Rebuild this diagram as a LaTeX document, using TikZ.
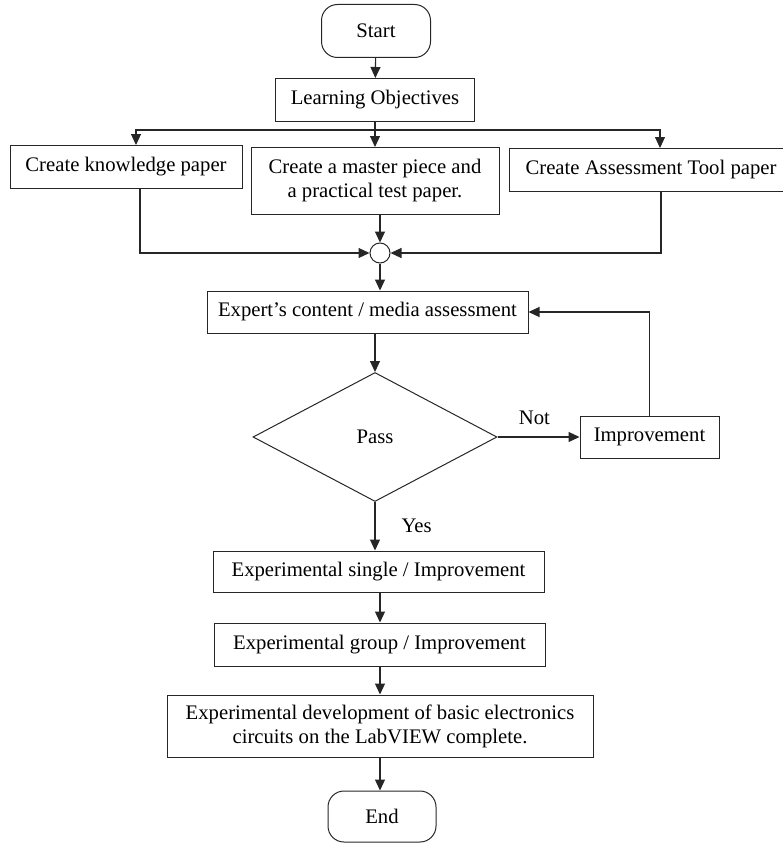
\documentclass[tikz,border=0pt]{standalone}
\usepackage{fontspec}
\setmainfont{Liberation Serif}
\newfontfamily\timesfont{Liberation Serif}
\usetikzlibrary{arrows.meta,shapes.geometric}

\begin{document}
\begin{tikzpicture}[x=1pt,y=-1pt,
    every node/.style={font=\timesfont\fontsize{20.7}{24}\selectfont, inner sep=0pt},
    box/.style={draw=black!85, line width=1pt, align=center},
    term/.style={box, rounded corners=16pt},
    junction/.style={circle, draw=black!85, line width=1pt, minimum size=20pt},
    decision/.style={diamond, draw=black!85, line width=1pt},
    conn/.style={draw=black!85, line width=1.1pt, -{Triangle[length=11pt,width=10pt]}}]
    \useasboundingbox (0,0) rectangle (782,843);
    \node[term, minimum width=109pt, minimum height=53pt] (start) at (376,31) {Start};
    \node[box, minimum width=199pt, minimum height=43pt] (lo) at (375,100) {Learning Objectives};
    \node[box, minimum width=232pt, minimum height=43pt] (know) at (126,167) {Create knowledge paper};
    \node[box, minimum width=248pt, minimum height=67pt] (master) at (375,181) {Create a master piece and\\a practical test paper.};
    \node[box, minimum width=284pt, minimum height=43pt] (assess) at (651,170) {Create Assessment Tool paper};
    \node[junction] (j) at (380,253) {};
    \node[box, minimum width=321pt, minimum height=42pt] (expert) at (367.5,312) {Expert’s content / media assessment};
    \node[decision, minimum width=244pt, minimum height=129pt] (pass) at (375,437) {Pass};
    \node[box, minimum width=139pt, minimum height=42pt] (improve) at (649.5,437) {Improvement};
    \node[box, minimum width=331pt, minimum height=41pt] (single) at (378.5,571.5) {Experimental single / Improvement};
    \node[box, minimum width=331pt, minimum height=43pt] (group) at (379.5,644.5) {Experimental group / Improvement};
    \node[box, minimum width=426pt, minimum height=62pt] (dev) at (380,726) {Experimental development of basic electronics\\circuits on the LabVIEW complete.};
    \node[term, minimum width=108pt, minimum height=51pt] (end) at (382,816.5) {End};
    \coordinate (split) at (375,130);

    \draw[conn] (start) -- (lo);
    \draw[draw=black!85, line width=1.1pt] (lo.south) -- (split);
    \draw[conn] (split) -| ([xshift=10pt]know.north);
    \draw[conn] (split) -- (master.north);
    \draw[conn] (split) -| ([xshift=9pt]assess.north);
    \draw[conn] ([xshift=14pt]know.south) |- (j.west);
    \draw[conn] (master.south -| j.north) -- (j.north);
    \draw[conn] ([xshift=10pt]assess.south) |- (j.east);
    \draw[conn] (j.south) -- (j.south |- expert.north);
    \draw[conn] (pass.north |- expert.south) -- (pass.north);
    \draw[conn] (pass.east) -- node[pos=0.45, above=12pt] (no) {Not} (improve.west);
    \draw[conn] (improve.north) |- (expert.east);
    \draw[conn] (pass.south) -- node[midway, right=26pt] (yes) {Yes} (pass.south |- single.north);
    \draw[conn] (single.south -| dev.north) -- (group.north -| dev.north);
    \draw[conn] (group.south -| dev.north) -- (dev.north);
    \draw[conn] (dev.south) -- (end.north -| dev.south);
\end{tikzpicture}
\end{document}
